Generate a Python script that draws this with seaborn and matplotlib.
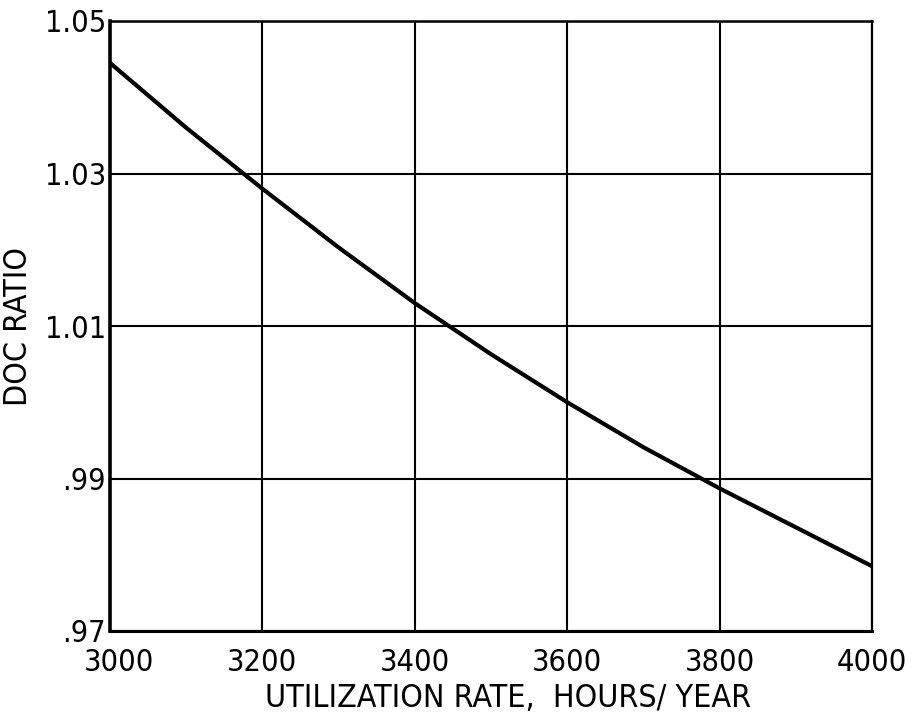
import matplotlib
matplotlib.use("Agg")
import matplotlib.pyplot as plt
import matplotlib.transforms as mtransforms
import seaborn as sns
import pandas as pd

# Utilization rate (hours/year) and the resulting DOC ratio
hours = [3000, 3100, 3200, 3300, 3400, 3500, 3600, 3700, 3800, 3900, 4000]
doc_ratio = [1.0445, 1.0360, 1.0280, 1.0203, 1.0130, 1.0063, 1.0000,
             0.9941, 0.9887, 0.9836, 0.9785]

x_ticks = [3000, 3200, 3400, 3600, 3800, 4000]
y_ticks = [0.97, 0.99, 1.01, 1.03, 1.05]
y_tick_labels = [".97", ".99", "1.01", "1.03", "1.05"]

df = pd.DataFrame({"hours": hours, "doc": doc_ratio})

sns.set_style("white")
plt.rcParams["font.family"] = ["DejaVu Sans"]
plt.rcParams["font.stretch"] = "condensed"
plt.rcParams["text.color"] = "black"
plt.rcParams["axes.labelcolor"] = "black"
plt.rcParams["xtick.color"] = "black"
plt.rcParams["ytick.color"] = "black"

fig = plt.figure(figsize=(9.2, 7.2), dpi=100)
ax = fig.add_axes([110 / 920, 1 - 631 / 720, 762 / 920, 610 / 720])

sns.lineplot(data=df, x="hours", y="doc", ax=ax, color="black",
             linewidth=3.0, zorder=3)

ax.set_xlim(3000, 4000)
ax.set_ylim(0.97, 1.05)
ax.set_xticks(x_ticks)
ax.set_yticks(y_ticks)
ax.set_xticklabels([str(v) for v in x_ticks], fontsize=22)
ax.set_yticklabels(y_tick_labels, fontsize=22)
ax.tick_params(axis="x", length=0, pad=12)
ax.tick_params(axis="y", length=0, pad=3)

# nudge the first x label right, clear of the ".97" label
first = ax.get_xticklabels()[0]
first.set_transform(first.get_transform() +
                    mtransforms.ScaledTranslation(9 / 100, 0, fig.dpi_scale_trans))

ax.grid(True, color="black", linewidth=1.5)
ax.set_axisbelow(True)
for side, lw in {"left": 2.6, "bottom": 2.2, "top": 1.8, "right": 1.6}.items():
    ax.spines[side].set_visible(True)
    ax.spines[side].set_color("black")
    ax.spines[side].set_linewidth(lw)

ax.set_xlabel("UTILIZATION RATE,  HOURS/ YEAR", fontsize=23)
ax.xaxis.set_label_coords(0.522, -0.085)
ax.set_ylabel("DOC RATIO", fontsize=23)
ax.yaxis.set_label_coords(-0.1, 0.5)

fig.savefig("out.png", dpi=100, facecolor="white")
